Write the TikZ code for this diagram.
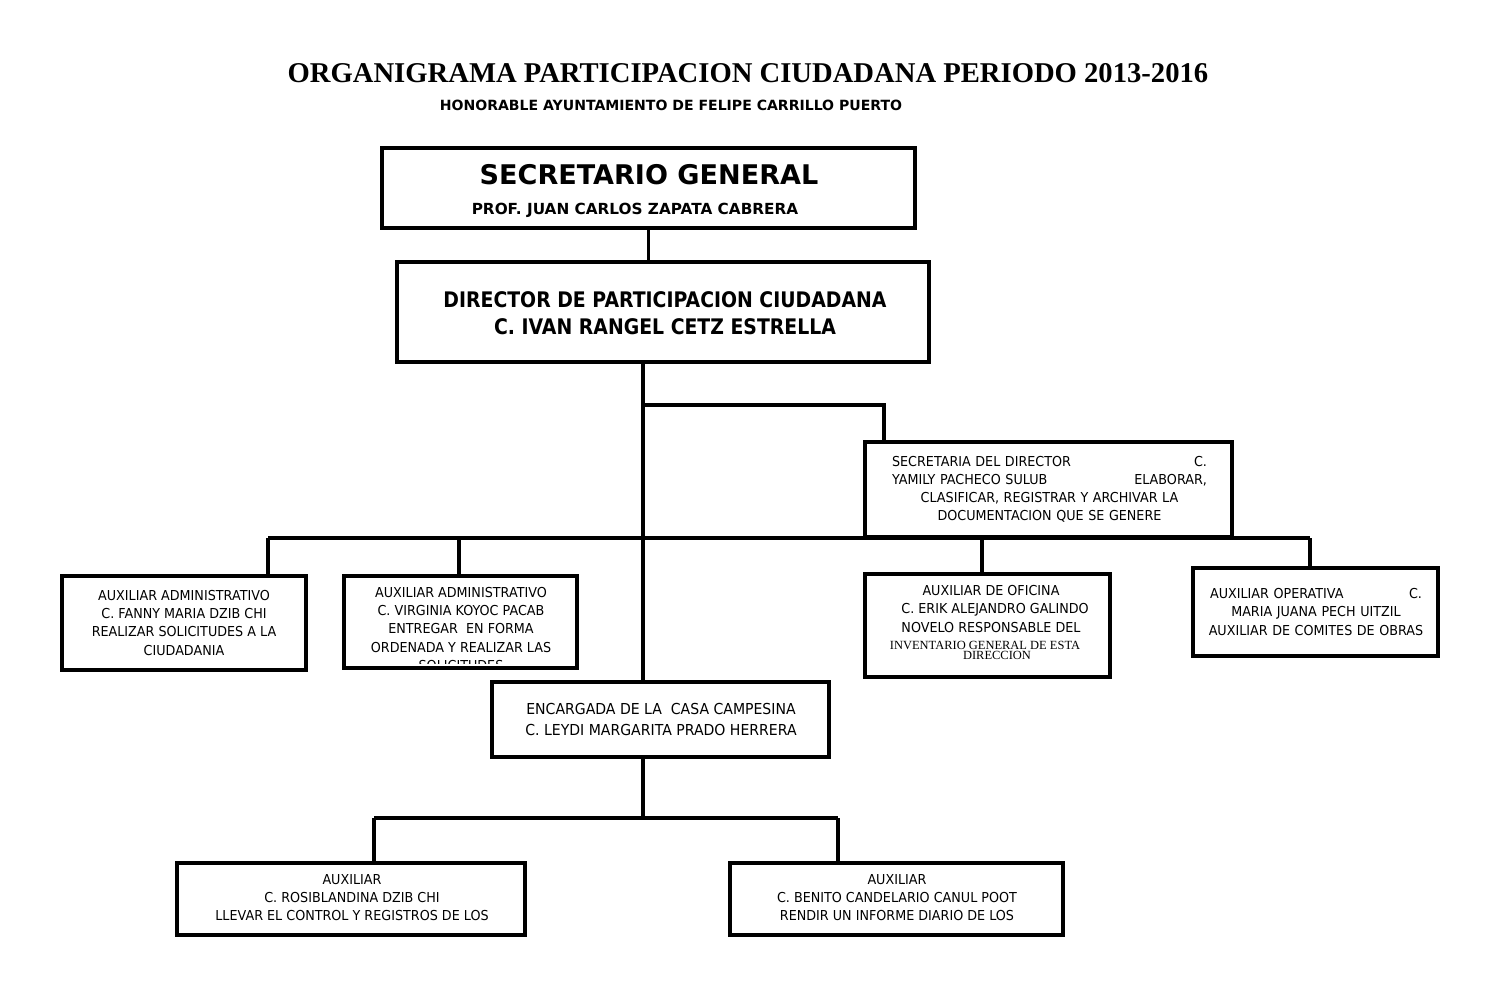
\documentclass[tikz,border=0pt]{standalone}
\usepackage{fontspec}
\newfontfamily\bodyf{DejaVu Sans}[FakeStretch=0.93]
\newfontfamily\hdf{DejaVu Sans}[FakeStretch=0.88]
\newfontfamily\sgf{DejaVu Sans}
\newfontfamily\serf{Liberation Serif}
\begin{document}
\begin{tikzpicture}[x=0.02cm,y=-0.02cm,
  box/.style={draw,line width=1.9pt,inner sep=0pt,fill=none},
  conn/.style={line width=1.8pt},
  body/.style={font=\bodyf\fontsize{7.8}{10.25}\selectfont,align=center,inner sep=0pt},
  big/.style={font=\bodyf\fontsize{8.6}{12}\selectfont,align=center,inner sep=0pt}]
\useasboundingbox (0,0) rectangle (1500,1000);
% title
\node[font=\serf\bfseries\fontsize{16.3}{18}\selectfont,inner sep=0pt] (title) at (748,73) {ORGANIGRAMA PARTICIPACION CIUDADANA PERIODO 2013-2016};
\node[font=\sgf\bfseries\fontsize{8}{10}\selectfont,inner sep=0pt] (sub) at (671,105) {HONORABLE AYUNTAMIENTO DE FELIPE CARRILLO PUERTO};
% boxes
\node[box,minimum width=10.66cm,minimum height=1.6cm] (sg) at (648.5,188) {};
\node[box,minimum width=10.64cm,minimum height=2.0cm] (dir) at (663,312) {};
\node[box,minimum width=7.34cm,minimum height=1.9cm] (sec) at (1048.5,489.5) {};
\node[box,minimum width=4.88cm,minimum height=1.88cm] (a1) at (184,623) {};
\node[box,minimum width=4.66cm,minimum height=1.84cm] (a2) at (460.5,622) {};
\node[box,minimum width=4.9cm,minimum height=2.06cm] (of) at (987.5,625.5) {};
\node[box,minimum width=4.9cm,minimum height=1.76cm] (op) at (1315.5,612) {};
\node[box,minimum width=6.74cm,minimum height=1.5cm] (enc) at (660.5,719.5) {};
\node[box,minimum width=6.96cm,minimum height=1.44cm] (b1) at (351,899) {};
\node[box,minimum width=6.66cm,minimum height=1.44cm] (b2) at (896.5,899) {};
% texts
\node[font=\sgf\bfseries\fontsize{15.4}{18}\selectfont,inner sep=0pt] (sgt) at (649,175) {SECRETARIO GENERAL};
\node[font=\sgf\bfseries\fontsize{8.7}{10}\selectfont,inner sep=0pt] (sgn) at (635,210) {PROF. JUAN CARLOS ZAPATA CABRERA};
\node[font=\hdf\bfseries\fontsize{12.2}{15.4}\selectfont,align=center,inner sep=0pt] (dirt) at (665,313) {DIRECTOR DE PARTICIPACION CIUDADANA\\C. IVAN RANGEL CETZ ESTRELLA};
\node[body,text width=6.3cm] (sect) at (1049.5,489.5) {\makebox[6.3cm][s]{SECRETARIA DEL DIRECTOR\hfil C.}\\\makebox[6.3cm][s]{YAMILY PACHECO SULUB\hfil ELABORAR,}\\CLASIFICAR, REGISTRAR Y ARCHIVAR LA\\DOCUMENTACION QUE SE GENERE};
\node[body] (a1t) at (184,623) {AUXILIAR ADMINISTRATIVO\\C. FANNY MARIA DZIB CHI\\REALIZAR SOLICITUDES A LA\\CIUDADANIA};
\begin{scope}
\clip (347,579) rectangle (574,663);
\node[body] (a2t) at (461,629) {AUXILIAR ADMINISTRATIVO\\C. VIRGINIA KOYOC PACAB\\ENTREGAR \ EN FORMA\\ORDENADA Y REALIZAR LAS\\SOLICITUDES};
\end{scope}
\node[body] (oft) at (991,609) {AUXILIAR DE OFICINA\\\ \ C. ERIK ALEJANDRO GALINDO\\NOVELO RESPONSABLE DEL};
\node[font=\serf\fontsize{7.1}{8}\selectfont,inner sep=0pt] (ofs1) at (985,645) {INVENTARIO GENERAL DE ESTA};
\node[font=\serf\fontsize{7.1}{8}\selectfont,inner sep=0pt] (ofs2) at (997,655) {DIRECCION};
\node[body,text width=4.7cm] (opt) at (1316,612) {\makebox[4.24cm][s]{AUXILIAR OPERATIVA\hfil C.}\\MARIA JUANA PECH UITZIL\\AUXILIAR DE COMITES DE OBRAS};
\node[big] (enct) at (661,719.5) {ENCARGADA DE LA \ CASA CAMPESINA\\C. LEYDI MARGARITA PRADO HERRERA};
\node[body] (b1t) at (352,898) {AUXILIAR\\C. ROSIBLANDINA DZIB CHI\\LLEVAR EL CONTROL Y REGISTROS DE LOS};
\node[body] (b2t) at (897,898) {AUXILIAR\\C. BENITO CANDELARIO CANUL POOT\\RENDIR UN INFORME DIARIO DE LOS};
% connector coordinates
\coordinate (tr) at (643,0);
\coordinate (j1) at (643,405);
\coordinate (secin) at (884,442);
\coordinate (busL) at (268,538);
\coordinate (bus2) at (459,538);
\coordinate (bus3) at (982,538);
\coordinate (busR) at (1310,538);
\coordinate (j2) at (643,818);
\coordinate (lowL) at (374,818);
\coordinate (lowR) at (838,818);
% connectors
\draw[conn] (sg.south) -- (sg.south |- dir.north);
\draw[conn] (dir.south -| tr) -- (enc.north -| tr);
\draw[conn] (j1) -| (secin);
\draw[conn] (busL) -- (busR);
\draw[conn] (busL) -- (a1.north -| busL);
\draw[conn] (bus2) -- (a2.north -| bus2);
\draw[conn] (bus3) -- (of.north -| bus3);
\draw[conn] (busR) -- (op.north -| busR);
\draw[conn] (enc.south -| tr) -- (j2);
\draw[conn] (lowL) -- (lowR);
\draw[conn] (lowL) -- (b1.north -| lowL);
\draw[conn] (lowR) -- (b2.north -| lowR);
\end{tikzpicture}
\end{document}
